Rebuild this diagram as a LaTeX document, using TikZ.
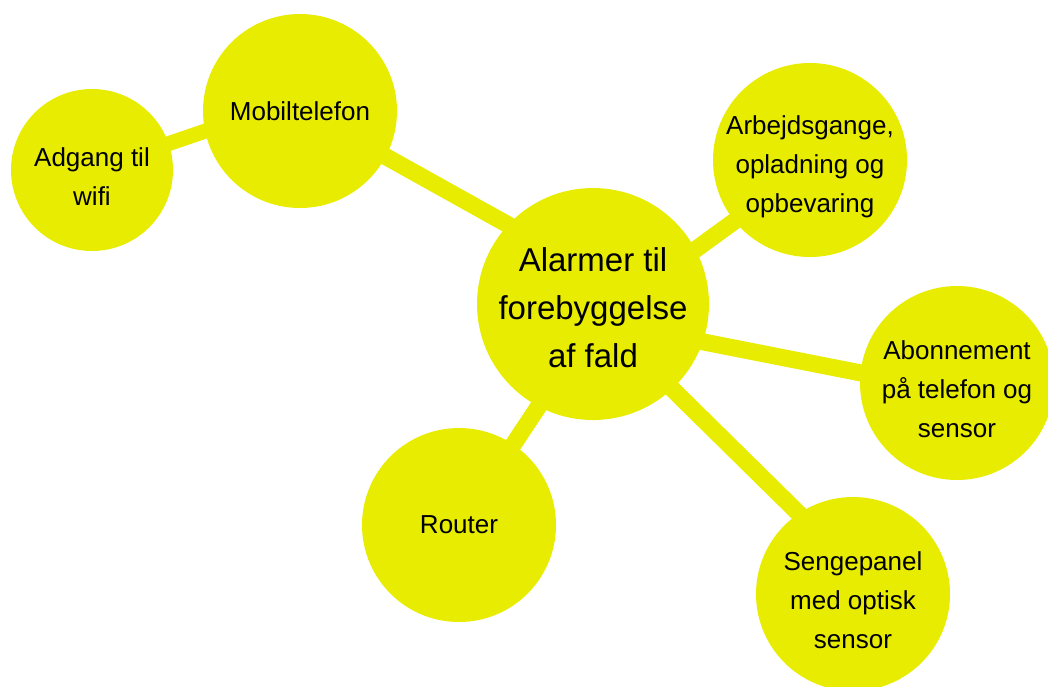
\documentclass[tikz,border=0pt]{standalone}
\usepackage{fontspec}
\setmainfont{Liberation Sans}
\usetikzlibrary{backgrounds}
\definecolor{faldgul}{RGB}{232,236,0}
\newcommand{\topstrut}{\rule{0pt}{32pt}}

\begin{document}
\begin{tikzpicture}[x=1pt, y=-1pt]
                \tikzstyle{leaf} = [circle, fill=faldgul, minimum size=194pt, inner sep=-5pt, align=center, font=\fontsize{26}{39}\selectfont]
                \tikzstyle{hubnode} = [leaf, minimum size=232pt, font=\fontsize{33}{48}\selectfont]
                \tikzstyle{spoke} = [faldgul, line width=17pt, shorten <=-12pt, shorten >=-12pt]

                \useasboundingbox (0,0) rectangle (1048,686);

                % Centre
                \node[hubnode] (hub) at (593,304) {\topstrut Alarmer til\\forebyggelse\\af fald};

                % Outer circles
                \node[leaf] (mob) at (300,111) {Mobiltelefon};
                \node[leaf, minimum size=162pt] (wifi) at (92,170) {\topstrut Adgang til\\wifi};
                \node[leaf] (arb) at (810,160) {\topstrut Arbejdsgange,\\opladning og\\opbevaring};
                \node[leaf] (abo) at (957,383) {\topstrut Abonnement\\på telefon og\\sensor};
                \node[leaf] (rout) at (459,525) {Router};
                \node[leaf] (seng) at (853,594) {\topstrut Sengepanel\\med optisk\\sensor};

                % Spokes (behind the circles)
                \begin{scope}[on background layer]
                \draw[spoke, line width=15pt] (wifi.19) -- (mob.-168);
                \draw[spoke] (mob.-28) -- (hub.137);
                \draw[spoke] (arb.-141) -- (hub.28);
                \draw[spoke] (hub.-19) -- (abo.174);
                \draw[spoke] (hub.-47) -- (seng.124);
                \draw[spoke] (hub.-118) -- (rout.56);
                \end{scope}
            \end{tikzpicture}
\end{document}
